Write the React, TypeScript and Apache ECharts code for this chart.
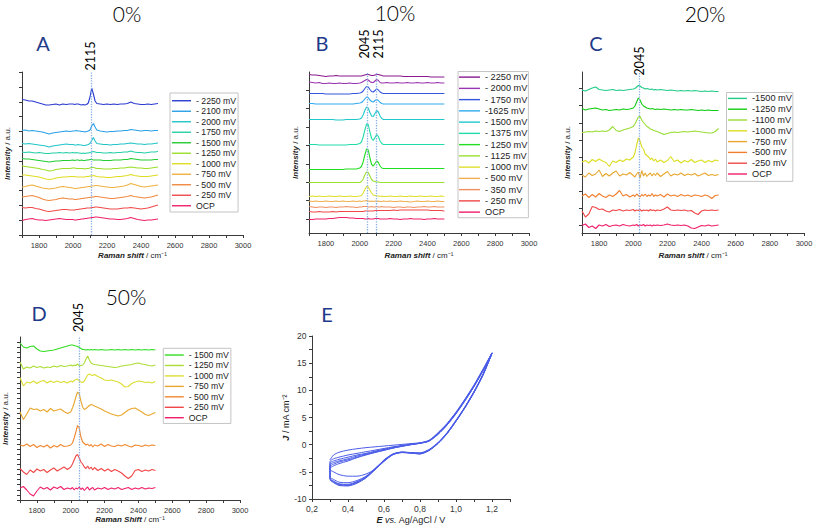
import React, { useEffect, useRef } from 'react';
import * as echarts from 'echarts';

// ---------- shared Raman shift grid (cm-1) ----------
const RAMAN_SHIFT = [1700,1720,1740,1760,1780,1800,1820,1840,1860,1880,1900,1920,1940,1960,1980,2000,2010,2020,2030,2040,2050,2060,2070,2080,2090,2100,2110,2120,2130,2140,2160,2180,2200,2220,2240,2260,2280,2300,2320,2340,2360,2380,2400,2420,2440,2460,2480,2500];

// ---------- Panel A : 0 % ----------
const A_LEGEND = ['- 2250 mV','- 2100 mV','- 2000 mV','- 1750 mV','- 1500 mV','- 1250 mV','- 1000 mV','- 750 mV','- 500 mV','- 250 mV','OCP'];
const A_M2250 = [135.5,135,134,134,133,132,131,130,130,130.5,131,130,131,130.5,131,131,130.5,131,131,130.5,130,130.5,130,130.5,132,138,147,141,134,131.5,131,130.5,131,130.5,131,130.5,131,131,131.5,133,131.5,131,130.5,130.5,131,130.5,131,131.5];
const A_M2100 = [104.5,105,104,104.5,104,103.5,103,102,101,102,102.5,103,103.5,104,103.5,104,104,104.5,104,104,103.5,103.5,103,103.5,104,105,109,111.5,108,105,104,103.5,103,103.5,103.5,104,104,104.5,104.5,105.5,105,104.5,104,104.5,104.5,104,104.5,104.5];
const A_M2000 = [91.5,91,91.5,91,90.5,90,89.5,89,88,89,89.5,90,90.5,91,90.5,90.5,90,90,90.5,90,90,89.5,89.5,90,90.5,91.5,94.5,97.5,94,91.5,91,90.5,90.5,90,90.5,90.5,91,91,91.5,92,91.5,91,91,90.5,91,91,91.5,92];
const A_M1750 = [83,82.5,83,82.5,82,82.5,82,81.5,81.5,82,82,82.5,82,82.5,82,82.5,82,82.5,82,82,81.5,82,81.5,82,82,82.5,83,83.5,83,82.5,82.5,82,82,82.5,82,82.5,82.5,83,83,84,83,82.5,82.5,82,82.5,83,83,83.5];
const A_M1500 = [76.5,76,76,75.5,75,74.5,74,73.5,73,73.5,74,74,74.5,74.5,74.5,75,74.5,75,75,74.5,75,74.5,74.5,75,75,75.5,75.5,75,75,75,75,74.5,74.5,74.5,75,75,75,75.5,75.5,76.5,76,75.5,75,75,75,75,75.5,75.5];
const A_M1250 = [69,68.5,68,67.5,67,66.5,65.5,65,64,64.5,65.5,66,66.5,66.5,66.5,67,67,66.5,66.5,66.5,66.5,66.5,66,66.5,66.5,67,67.5,67.5,67,66.5,66.5,66,66,66,66.5,66.5,67,67,67.5,68,67.5,67,67,66.5,66.5,67,67.5,68];
const A_M1000 = [60,60,59.5,59,58.5,58,57,56,55.5,56,57,57.5,58,58,58.5,58.5,58.5,58,58,58,58,58,58,58.5,58.5,59,59,59.5,59,58.5,58,58,57.5,57.5,58,58.5,58.5,59,59.5,60.5,59.5,59,58.5,58.5,58.5,59,59.5,60];
const A_M750 = [48,48.5,49.5,50,49,48,47,46.5,46,46.5,47,48,48.5,48,47.5,47,46.5,46.5,47,47,47.5,47.5,48,48,48.5,48.5,49,49,49.5,49.5,49,48.5,48,47.5,47.5,48,48.5,49,50,51.5,50.5,49.5,48.5,48,48.5,49,49.5,50];
const A_M500 = [38,38.5,39,39.5,38.5,37.5,36,35,34.5,35,35.5,36.5,37,36.5,36,36,35.5,35.5,36,36,36.5,36.5,37,37,37.5,37.5,38,38,38.5,38.5,38,37.5,37,36.5,36.5,37,37.5,38,38.5,39.5,38.5,38,37.5,37,37.5,38,39,40];
const A_M250 = [27.5,27,27.5,27.5,26.5,26,25,24,23.5,24,24.5,25,25.5,25.5,25,25,25,25.5,25.5,26,26,26.5,26.5,27,27,27,27.5,27.5,28,28,27.5,27,26.5,26,26,26,26.5,27,27,27.5,27,26.5,26,26.5,27,28,29,30];
const A_OCP = [14.5,15.5,16,16.5,15.5,15,15,14.5,15,15.5,16,16.5,16,15.5,15.5,15.5,15,15,15.5,15.5,16,16,16.5,16.5,17,17,17.5,17.5,18,18,17.5,17,16.5,16,16,15.5,15.5,16,16.5,17.5,16.5,15.5,15,14.5,15,15,15.5,16];
const A_SPECTRA = [A_M2250,A_M2100,A_M2000,A_M1750,A_M1500,A_M1250,A_M1000,A_M750,A_M500,A_M250,A_OCP];
const A_PEAK_LINES = [2108];
const A_PEAK_LABELS = ['2115'];

// ---------- Panel B : 10 % ----------
const B_LEGEND = ['- 2250 mV','- 2000 mV','- 1750 mV','-1625 mV','- 1500 mV','- 1375 mV','- 1250 mV','- 1125 mV','- 1000 mV','- 500 mV','- 350 mV','- 250 mV','OCP'];
const B_M2250 = [158.5,158,158,157.5,157,156.5,157,157,157.5,157,157,157,157,157,157,157,157,157.5,158,158.5,158.5,158,157.5,157.5,158,158.5,158.5,158,157.5,157,157,157,157,157,157,156.5,156.5,156.5,156.5,156.5,156.5,156.5,156.5,156,156,156,156,156];
const B_M2000 = [151,150.5,150,150.5,149.5,149.5,150,149.5,149.5,150,149.5,149.5,150,149.5,149.5,150,150.5,151.5,152.5,153.5,153,151.5,150.5,150.5,152,153.5,152.5,150.5,150,150,150.5,150,150,150.5,150,150,150.5,150,150,150.5,150,150,150.5,150,150,150.5,150,150];
const B_M1750 = [139.5,139.5,139.5,139.5,139.5,139,139,139,139,139,139,139,139,139.5,139.5,140,140.5,142,144.5,146.5,146,143.5,141.5,141,142.5,144,143,141,140,139.5,139.5,139.5,139.5,139.5,139.5,139.5,139.5,139.5,139.5,139.5,139.5,139.5,139.5,139.5,139.5,139.5,139.5,139.5];
const B_M1625 = [129.5,129.5,129,129,129,129,129,129,129,129,129,129,129,129,129.5,130,130.5,132,134,136,135.5,133,131.5,131,132.5,133.5,132.5,130.5,129.5,129,129,129,129,129,129,129,129,129,129,129,129,129,129,129,129,129,129,129];
const B_M1500 = [113.5,113.5,113.5,113.5,113.5,113.5,113.5,113.5,113,113,113,113.5,113.5,113.5,113.5,114,115,118,122.5,126,125,120.5,117,116.5,119.5,122.5,121,117,114.5,113.5,113.5,113.5,113.5,113.5,113.5,113.5,113.5,113.5,113.5,113.5,113.5,113.5,113.5,113.5,113.5,113.5,113.5,113.5];
const B_M1375 = [88.5,88.5,88.5,88,88,88,88,88,88,88,88,88,88.5,88.5,88.5,89.5,91,96,103,109,108.5,101,94.5,92.5,95.5,98.5,96.5,92,89.5,88.5,88.5,88.5,88.5,88.5,88.5,88.5,88.5,88.5,88.5,88.5,88.5,88.5,88.5,88.5,88.5,88.5,88.5,88.5];
const B_M1250 = [63.5,63.5,63.5,63.5,63.5,63.5,63.5,63.5,63.5,63.5,63.5,64,64,64,64,65,66.5,71,78,84,83,75,68.5,67,69.5,72,70.5,67,65,64.5,64.5,64.5,64.5,64.5,64.5,64.5,64.5,64.5,64.5,64.5,64.5,64.5,64.5,64.5,64.5,64.5,64.5,64.5];
const B_M1125 = [50.5,50.5,50.5,50.5,50.5,50.5,50.5,50.5,50.5,50.5,50.5,50.5,50.5,50.5,50.5,50.5,51.5,54,58,61,60.5,57,53.5,52,51.5,51,51,50.5,50.5,50.5,50.5,50.5,50.5,50.5,50.5,50.5,50.5,50.5,50.5,50.5,50.5,50.5,50.5,50.5,50.5,50.5,50.5,50.5];
const B_M1000 = [36.5,37,36.5,37,36.5,36.5,37,36.5,36.5,37,36.5,36.5,37,36.5,36.5,37,37.5,40,43.5,46.5,46,43,40,38,37.5,37,37,36.5,37,36.5,36.5,37,36.5,36.5,37,36.5,36.5,37,36.5,36.5,37,36.5,36.5,37,36.5,36.5,37,36.5];
const B_M500 = [32,31.5,32,31.5,31.5,32,31.5,31.5,32,31.5,32,31.5,31.5,32,31.5,32,31.5,32,32,32.5,32,31.5,32,31.5,32,31.5,32,31.5,31.5,32,31.5,32,31.5,31.5,32,31.5,31.5,31,31.5,32,31.5,31.5,32,31.5,31.5,32,31.5,31.5];
const B_M350 = [26.5,26,25.5,26,26,25.5,26,26,25.5,26,26,26.5,26,26,25.5,26,26,26.5,26.5,26.5,26,26,26.5,26,26,26.5,26,26,26.5,26,26,26,25.5,26,26,25.5,26,26,25.5,26,26,26.5,26,26,26.5,26,26,26];
const B_M250 = [21.5,21,21,21.5,21,21,21,21.5,21,21.5,21.5,21.5,21.5,21.5,21.5,21.5,21.5,21.5,22,22,22,22,22,22,22.5,22.5,22.5,22.5,22.5,22.5,22.5,22.5,23,22.5,23,23,23,23,23,23,23,23,23,22.5,22.5,22.5,22.5,22];
const B_OCP = [13.5,13.5,14,14,14,14,14.5,14.5,15,15.5,15.5,15.5,15,15,14.5,14.5,14.5,14.5,14,14,14.5,14,14,14,14.5,14.5,14.5,14,14,14,14,14.5,14,14,13.5,14,14,14.5,14,14,14,13.5,14,14,14.5,14,14,14];
const B_SPECTRA = [B_M2250,B_M2000,B_M1750,B_M1625,B_M1500,B_M1375,B_M1250,B_M1125,B_M1000,B_M500,B_M350,B_M250,B_OCP];
const B_PEAK_LINES = [2045, 2100];
const B_PEAK_LABELS = ['2045', '2115'];

// ---------- Panel C : 20 % ----------
const C_LEGEND = ['-1500 mV','-1250 mV','-1100 mV','-1000 mV','-750 mV','-500 mV','-250 mV','OCP'];
const C_M1500 = [143,142,143.5,145,146,143.5,143,142.5,143,143.5,142.5,143,142.5,143,143.5,144,144.5,146,147.5,147,145.5,145,144,144.5,144,143.5,144,143,143.5,143,143.5,143,142.5,143,142.5,142,142.5,142,142.5,142,142.5,142,141.5,142,141.5,142,141.5,141.5];
const C_M1250 = [124.5,123,124,124.5,125,124,123,123.5,122.5,123,123.5,123,124,123.5,124,125,127,131,135,133,129,127,126,125,124.5,124,124.5,124,123.5,124,123.5,124,123.5,123,123.5,123,123.5,123,123,123.5,123,122.5,123,122.5,123,122.5,122.5,122.5];
const C_M1100 = [100.5,101,101.5,101,102,101.5,102,101.5,103,106.5,102.5,101.5,103,104,105,106.5,109,112.5,116,116.5,113,110.5,108.5,106.5,105.5,104,103.5,102.5,102,101.5,100,98.5,99.5,100.5,101,100.5,101,101.5,101,101.5,102,101.5,101,100.5,100,100,101.5,104.5];
const C_M1000 = [71,72.5,70,73.5,71.5,74,72,70.5,66.5,72,70.5,73,71.5,74,73,76,80,88,95,92,86,84,79,77.5,76,73.5,75,72,74,71,73,70.5,72.5,76.5,71.5,73,70,72.5,71,73.5,70.5,72,73,70.5,72.5,71,73,72];
const C_M750 = [58,56,60,57.5,59,63,56.5,59.5,57,60,62,57,59,58,60.5,57.5,56,59,61,55,62.5,57,60,56.5,58.5,60,57,59.5,57.5,60,56.5,59,61.5,57,59,58,60,57.5,59,58,59.5,57,58.5,60,57.5,58.5,57.5,58.5];
const C_M500 = [37,39,35.5,38.5,36,39.5,37,35.5,38,36.5,39,42.5,37,38.5,36,38,36.5,39,37.5,36,38.5,37,39,36.5,38,37,39.5,36.5,38,37,38.5,36,39,37,38,36.5,38.5,37,38,36.5,38,37.5,36.5,38,37,34.5,37.5,38];
const C_M250 = [22,16,19,26.5,25.5,23.5,24,22,21,23,22.5,23.5,22,23,22.5,23.5,22,23,22.5,23.5,22,23,22.5,23,22,23.5,22.5,23,22,23,22.5,24,26,23,22.5,23,22.5,23,22,22.5,20,18.5,22,23,22.5,23,22.5,23];
const C_OCP = [7.5,9,5.5,7,4.5,8,7,8.5,6.5,7.5,8,7,8.5,7.5,7,8,7.5,8.5,7,8,7.5,8.5,7,8,7.5,8,7,8,7.5,8,7.5,8,9,8,7.5,8,7.5,8,7,5,4.5,6,7.5,7,8,7,7.5,8];
const C_SPECTRA = [C_M1500,C_M1250,C_M1100,C_M1000,C_M750,C_M500,C_M250,C_OCP];
const C_PEAK_LINES = [2036];
const C_PEAK_LABELS = ['2045'];

// ---------- Panel D : 50 % ----------
const D_LEGEND = ['- 1500 mV','- 1250 mV','- 1000 mV','- 750 mV','- 500 mV','- 250 mV','OCP'];
const D_M1500 = [157,153,152,153.5,154,151,149,148.5,149,149.5,150,151,152,153,154,155,155,154.5,154,153.5,152.5,151.5,150.5,150.5,150,150.5,150,150.5,150,150.5,150,150.5,150,150,150.5,150,150.5,150,150.5,150,150.5,150,150.5,150,150.5,150,150.5,150];
const D_M1250 = [138,131,133,132,134,132.5,133.5,132,133,132.5,134,133,134.5,133.5,134,135,134,135,134.5,136,134,134.5,135,137,141,144,140,137,136,135.5,135,134.5,134,133.5,133,132.5,133,134,134.5,135,135.5,136.5,137,136,135.5,134.5,134,135];
const D_M1000 = [122.5,114,118,117,119,116.5,118.5,119.5,117,119,117.5,119,117.5,118.5,117,119,118,119.5,120.5,121,119,118,117.5,119,122,125,126,125,124.5,125.5,123.5,122,120,119.5,120,119,118,116,113,113.5,116.5,118,119,118.5,117.5,118,117,118.5];
const D_M750 = [88,80.5,86,92,90.5,91,89,90.5,88,91.5,89,90,91,88.5,86.5,88,92,97,103,108,106,99,93,90.5,91.5,93,94.5,95.5,95,94,92.5,91,89,87.5,86,85,84,85,87.5,90,91.5,92,90,88,85.5,84.5,86,87.5];
const D_M500 = [55,54,56,53.5,55.5,52.5,54.5,53,55,52,54.5,53,55.5,53.5,54,55,57,62,68,74.5,72,63,58,56.5,55,56,54,55.5,53,55,54,56,53.5,55.5,54,53.5,55,54,55.5,54,53,55,54.5,53.5,55,54,55,54.5];
const D_M250 = [31.5,28,25.5,30,27.5,31,29,30.5,27.5,30,32,29,31,33,30.5,33,36,40,44,45.5,42,38,36,33,31.5,34,31,33,30,32.5,29.5,31.5,29,31,28.5,30.5,29,27,24,21.5,24,29.5,30.5,28.5,30,29,30.5,29.5];
const D_OCP = [12,13.5,10,6,4,9,13,11,12.5,10,13,11.5,13.5,10.5,12,11,12.5,10,12,11,13,10.5,12,9.5,11.5,13,10,11.5,12.5,10,12,11,12.5,10.5,12,11,12.5,10.5,11.5,12.5,10.5,12,11,12.5,11,12,11.5,12.5];
const D_SPECTRA = [D_M1500,D_M1250,D_M1000,D_M750,D_M500,D_M250,D_OCP];
const D_PEAK_LINES = [2048];
const D_PEAK_LABELS = ['2045'];

// ---------- Panel E : cyclic voltammetry ----------
const CV_POTENTIAL = [0.30,0.32,0.35,0.40,0.45,0.50,0.55,0.60,0.65,0.70,0.75,0.80,0.85,0.90,0.95,1.00,1.05,1.10,1.15,1.20,1.15,1.10,1.05,1.00,0.95,0.90,0.85,0.80,0.75,0.70,0.65,0.60,0.55,0.50,0.45,0.40,0.35,0.32,0.30];
const CV_J_CYCLE1 = [-2.8,-1.9,-1.4,-1.0,-0.75,-0.55,-0.4,-0.25,-0.1,0.05,0.2,0.35,0.8,2.2,3.9,6.0,8.4,11.0,13.9,16.9,13.0,9.8,7.0,4.5,2.2,0.4,-0.9,-1.5,-1.45,-1.35,-1.7,-2.8,-4.5,-5.4,-5.8,-5.8,-5.5,-5.0,-4.6];
const CV_J_CYCLE2 = [-3.1,-2.6,-2.3,-1.9,-1.6,-1.3,-1.0,-0.7,-0.4,-0.15,0.1,0.3,0.75,2.1,3.8,5.9,8.3,10.9,13.8,16.9,12.9,9.7,6.9,4.4,2.1,0.3,-1.0,-1.6,-1.5,-1.4,-1.75,-2.9,-4.4,-5.8,-6.6,-7.0,-6.9,-6.4,-6.0];
const CV_J_CYCLE3 = [-3.4,-3.0,-2.7,-2.3,-1.9,-1.6,-1.2,-0.85,-0.5,-0.2,0.05,0.3,0.7,2.0,3.7,5.8,8.2,10.8,13.7,16.8,12.9,9.7,6.9,4.4,2.1,0.3,-1.0,-1.6,-1.5,-1.4,-1.75,-2.9,-4.4,-5.9,-6.8,-7.3,-7.2,-6.7,-6.2];
const CV_J_CYCLE4 = [-3.7,-3.3,-3.0,-2.6,-2.1,-1.7,-1.3,-0.9,-0.55,-0.25,0.05,0.3,0.7,2.0,3.7,5.8,8.2,10.8,13.7,16.8,12.9,9.7,6.9,4.4,2.1,0.3,-1.0,-1.65,-1.5,-1.4,-1.8,-3.0,-4.5,-6.0,-6.9,-7.4,-7.3,-6.8,-6.3];
const CV_J_CYCLE5 = [-4.0,-3.6,-3.2,-2.8,-2.3,-1.8,-1.4,-1.0,-0.6,-0.3,0.0,0.25,0.65,1.9,3.6,5.7,8.1,10.7,13.6,16.8,12.8,9.6,6.8,4.3,2.0,0.25,-1.05,-1.7,-1.55,-1.45,-1.8,-3.0,-4.6,-6.1,-7.0,-7.5,-7.4,-6.9,-6.4];
const CV_J_CYCLE6 = [-4.4,-3.9,-3.5,-3.0,-2.4,-1.9,-1.45,-1.05,-0.65,-0.3,0.0,0.25,0.65,1.9,3.6,5.7,8.1,10.7,13.6,16.8,12.8,9.6,6.8,4.3,2.0,0.2,-1.1,-1.7,-1.55,-1.45,-1.85,-3.1,-4.6,-6.1,-7.1,-7.6,-7.5,-7.0,-6.5];
const CV_CYCLES = [CV_J_CYCLE1,CV_J_CYCLE2,CV_J_CYCLE3,CV_J_CYCLE4,CV_J_CYCLE5,CV_J_CYCLE6];

// ---------- styling ----------
const FONT = '"Liberation Sans", Arial, sans-serif';
const DISPLAY_FONT = 'Lato, "Noto Sans", sans-serif';
const AXIS_COLOR = '#3a3a3a';
const A_COLORS = ['#2a3bd0','#2aa0e8','#22c4c8','#25cfa8','#22cc33','#9adf2a','#e0dc20','#f0b040','#f08840','#f04a4a','#f0206a'];
const B_COLORS = ['#8a1a90','#9a34b0','#3355dd','#30aaee','#20c8cc','#20dca8','#22dd22','#99e030','#e0e030','#f0b050','#f09060','#f04848','#f0206a'];
const C_COLORS = ['#22cc88','#11cc11','#99dd33','#dddd22','#e8a830','#f08030','#f04848','#f0206a'];
const D_COLORS = ['#33dd22','#aadd33','#dddd33','#e8a830','#f08830','#f04848','#f0206a'];
const CV_COLOR = '#4b5de8';

const stepTicks = (start: number, step: number, end: number) => {
  const out: number[] = [];
  for (let v = start; v <= end + 0.01; v += step) out.push(Math.round(v * 100) / 100);
  return out;
};

const PANELS = [
  { key: 'A', names: A_LEGEND, colors: A_COLORS, spectra: A_SPECTRA, peakLines: A_PEAK_LINES, peakLabels: A_PEAK_LABELS,
    peakDx: [-1], peakY: 56,
    grid: { left: 22, top: 72, width: 221, height: 163 }, yTicks: stepTicks(0, 14.8, 163),
    xName: '{b|Raman shift} / cm⁻¹', xNameGap: 16.5, yNameGap: 11,
    legend: { left: 170, top: 93, itemWidth: 19, spacing: 10.5, padding: [2.5, 2, 1, 2], fontSize: 8.7 } },
  { key: 'B', names: B_LEGEND, colors: B_COLORS, spectra: B_SPECTRA, peakLines: B_PEAK_LINES, peakLabels: B_PEAK_LABELS,
    peakDx: [-3, 2], peakY: 44,
    grid: { left: 309, top: 72, width: 220, height: 161 }, yTicks: stepTicks(14, 18.4, 161),
    xName: '{b|Raman shift} / cm⁻¹', xNameGap: 18.5, yNameGap: 9.5,
    legend: { left: 458, top: 71.5, itemWidth: 21, spacing: 11.25, padding: [0, 1, 0, 1], fontSize: 9.2 } },
  { key: 'C', names: C_LEGEND, colors: C_COLORS, spectra: C_SPECTRA, peakLines: C_PEAK_LINES, peakLabels: C_PEAK_LABELS,
    peakDx: [0], peakY: 61,
    grid: { left: 582, top: 72, width: 222, height: 161 }, yTicks: stepTicks(7.6, 17.1, 161),
    xName: '{b|Raman shift} / cm⁻¹', xNameGap: 18.5, yNameGap: 10.5,
    legend: { left: 726.5, top: 92.5, itemWidth: 19, spacing: 10.8, padding: [0.5, 1, 2, 1.5], fontSize: 9.2 } },
  { key: 'D', names: D_LEGEND, colors: D_COLORS, spectra: D_SPECTRA, peakLines: D_PEAK_LINES, peakLabels: D_PEAK_LABELS,
    peakDx: [0], peakY: 317.5,
    grid: { left: 20, top: 337, width: 220, height: 163 }, yTicks: stepTicks(0, 5.094, 163),
    xName: '{b|Raman Shift} / cm⁻¹', xNameGap: 15, yNameGap: 10.5,
    legend: { left: 163.3, top: 348.3, itemWidth: 19, spacing: 10.45, padding: [1.5, 2, 0.5, 1.5], fontSize: 8.7 } },
];

const nameStyle = {
  fontSize: 8, color: '#222', fontFamily: FONT,
  rich: {
    b: { fontSize: 8, fontStyle: 'italic', fontWeight: 'bold', color: '#222', fontFamily: FONT },
    i: { fontSize: 8, fontStyle: 'italic', color: '#222', fontFamily: FONT },
  },
};

function buildOption() {
  const grid: any[] = [];
  const xAxis: any[] = [];
  const yAxis: any[] = [];
  const series: any[] = [];
  const legend: any[] = [];

  PANELS.forEach((p, idx) => {
    grid.push({ ...p.grid, containLabel: false, outerBoundsMode: 'none' });
    xAxis.push({
      type: 'value', gridIndex: idx, min: 1700, max: 3000, interval: 100,
      axisLine: { show: true, onZero: false, lineStyle: { color: AXIS_COLOR, width: 1 } },
      axisTick: { show: true, length: 3, lineStyle: { color: AXIS_COLOR } },
      axisLabel: { show: true, interval: 0, margin: 6, fontSize: 7.5, color: '#333', fontFamily: FONT,
        formatter: (v: number) => (v % 200 === 0 ? String(v) : '') },
      splitLine: { show: false },
      name: p.xName, nameLocation: 'middle', nameGap: p.xNameGap, nameTextStyle: nameStyle,
    });
    yAxis.push({
      type: 'value', gridIndex: idx, min: 0, max: p.grid.height,
      axisLine: { show: true, onZero: false, lineStyle: { color: AXIS_COLOR, width: 1 } },
      axisTick: { show: true, length: 3, customValues: p.yTicks, lineStyle: { color: AXIS_COLOR } },
      axisLabel: { show: false },
      splitLine: { show: false },
      name: '{b|Intensity} / a.u.', nameLocation: 'middle', nameGap: p.yNameGap, nameTextStyle: nameStyle,
    });
    p.spectra.forEach((ys, i) => {
      series.push({
        type: 'line', name: p.key + '|' + p.names[i], xAxisIndex: idx, yAxisIndex: idx,
        data: RAMAN_SHIFT.map((x, j) => [x, ys[j]]),
        symbol: 'none', showSymbol: false, silent: true, z: 3,
        lineStyle: { color: p.colors[i], width: 1.1 },
        itemStyle: { color: p.colors[i] },
        markLine: i === 0 ? {
          silent: true, symbol: 'none', label: { show: false },
          lineStyle: { type: 'dotted', color: '#86aee6', width: 1.3 },
          data: p.peakLines.map((v) => ({ xAxis: v })),
        } : undefined,
      });
    });
    legend.push({
      data: p.names.map((n) => p.key + '|' + n),
      orient: 'vertical', left: p.legend.left, top: p.legend.top,
      icon: 'rect', itemWidth: p.legend.itemWidth, itemHeight: 1.4, itemGap: 0,
      padding: p.legend.padding, borderColor: '#c4c4c4', borderWidth: 1, backgroundColor: '#fff',
      selectedMode: false,
      formatter: (n: string) => n.split('|')[1],
      textStyle: { fontSize: p.legend.fontSize, color: '#222', fontFamily: FONT, lineHeight: p.legend.spacing },
    });
  });

  // Panel E
  grid.push({ left: 312, top: 336, width: 198, height: 163, containLabel: false, outerBoundsMode: 'none' });
  xAxis.push({
    type: 'value', gridIndex: 4, min: 0.2, max: 1.3, interval: 0.1,
    axisLine: { show: true, onZero: false, lineStyle: { color: AXIS_COLOR, width: 1 } },
    axisTick: { show: true, length: 3, lineStyle: { color: AXIS_COLOR } },
    axisLabel: { show: true, interval: 0, margin: 5, fontSize: 8.5, color: '#333', fontFamily: FONT,
      formatter: (v: number) => { const t = Math.round(v * 10); return t % 2 === 0 && t <= 12 ? (t / 10).toFixed(1).replace('.', ',') : ''; } },
    splitLine: { show: false },
    name: '{b|E} {i|vs.} Ag/AgCl / V', nameLocation: 'middle', nameGap: 16.5,
    nameTextStyle: { ...nameStyle, fontSize: 9, rich: { b: { ...nameStyle.rich.b, fontSize: 9 }, i: { ...nameStyle.rich.i, fontSize: 9 } } },
  });
  yAxis.push({
    type: 'value', gridIndex: 4, min: -10, max: 20, interval: 2.5,
    axisLine: { show: true, onZero: false, lineStyle: { color: AXIS_COLOR, width: 1 } },
    axisTick: { show: true, length: 3, lineStyle: { color: AXIS_COLOR } },
    axisLabel: { show: true, interval: 0, margin: 5.5, fontSize: 8.5, color: '#333', fontFamily: FONT,
      formatter: (v: number) => (Math.abs(v % 5) < 1e-9 ? String(v) : '') },
    splitLine: { show: false },
    name: '{b|J} / mA cm⁻²', nameLocation: 'middle', nameGap: 19,
    nameTextStyle: { ...nameStyle, fontSize: 9, rich: { b: { ...nameStyle.rich.b, fontSize: 9 } } },
  });
  const cvData: number[][] = [];
  CV_CYCLES.forEach((js) => js.forEach((j, k) => cvData.push([CV_POTENTIAL[k], j])));
  series.push({
    type: 'line', name: 'CV', xAxisIndex: 4, yAxisIndex: 4, data: cvData,
    symbol: 'none', showSymbol: false, silent: true, smooth: 0.25,
    lineStyle: { color: CV_COLOR, width: 1 }, itemStyle: { color: CV_COLOR },
  });

  return { animation: false, backgroundColor: '#fff', grid, xAxis, yAxis, series, legend };
}

function buildGraphics(chart: echarts.ECharts) {
  const g: any[] = [];
  const titles = [
    { text: '0%', x: 127, y: 13 }, { text: '10%', x: 395, y: 12 },
    { text: '20%', x: 705, y: 13 }, { text: '50%', x: 126, y: 296 },
  ];
  titles.forEach((t) => g.push({ type: 'text', x: t.x, y: t.y, silent: true,
    style: { text: t.text, fontSize: 21, fontFamily: DISPLAY_FONT, fontWeight: 300, fill: '#000', align: 'center', verticalAlign: 'middle' } }));
  const letters = [
    { text: 'A', x: 43, y: 43 }, { text: 'B', x: 322, y: 43 }, { text: 'C', x: 596, y: 43 },
    { text: 'D', x: 39, y: 313 }, { text: 'E', x: 327, y: 314 },
  ];
  letters.forEach((t) => g.push({ type: 'text', x: t.x, y: t.y, silent: true,
    style: { text: t.text, fontSize: 20, fontFamily: DISPLAY_FONT, fill: '#1e3a8a', align: 'center', verticalAlign: 'middle' } }));
  PANELS.forEach((p, idx) => {
    p.peakLines.forEach((v, k) => {
      const px = chart.convertToPixel({ xAxisIndex: idx } as any, v) as unknown as number;
      g.push({ type: 'text', x: px + p.peakDx[k], y: p.peakY, rotation: Math.PI / 2, silent: true,
        style: { text: p.peakLabels[k], fontSize: 12.5, fontFamily: DISPLAY_FONT, fill: '#000', align: 'center', verticalAlign: 'middle' } });
    });
  });
  return g;
}

export default function App() {
  const ref = useRef<HTMLDivElement>(null);
  useEffect(() => {
    const el = ref.current;
    if (!el) return;
    const chart = echarts.init(el, undefined, { renderer: 'svg' });
    chart.setOption(buildOption() as any);
    chart.setOption({ graphic: buildGraphics(chart) } as any);
    return () => chart.dispose();
  }, []);
  return <div ref={ref} style={{ position: 'fixed', left: 0, top: 0, width: 813, height: 530, background: '#fff' }} />;
}
